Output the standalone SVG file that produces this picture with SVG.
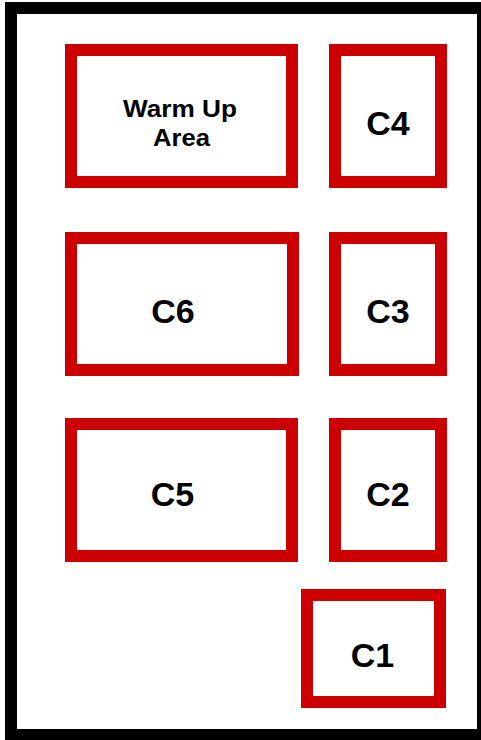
<svg xmlns="http://www.w3.org/2000/svg" width="481" height="740" viewBox="0 0 481 740">
<style>
.box{fill:#fff;stroke:#cc0000;stroke-width:12}
.lbl{font-family:"Liberation Sans",Arial,sans-serif;font-weight:bold;font-size:34px;fill:#000;text-anchor:middle}
.sm{font-size:23px}
</style>
<rect x="0" y="0" width="481" height="740" fill="#fff"/>
<rect x="11" y="8" width="472" height="727" fill="none" stroke="#000" stroke-width="12"/>
<g id="warmup">
<rect class="box" x="71" y="50" width="221" height="132"/>
<text class="lbl sm" x="180" y="117" textLength="114" lengthAdjust="spacingAndGlyphs">Warm Up</text>
<text class="lbl sm" x="181.5" y="145.5" textLength="57" lengthAdjust="spacingAndGlyphs">Area</text>
</g>
<g id="c4">
<rect class="box" x="335" y="50" width="106" height="132"/>
<text class="lbl" x="388" y="135">C4</text>
</g>
<g id="c6">
<rect class="box" x="71" y="238" width="222" height="132"/>
<text class="lbl" x="173" y="322.5">C6</text>
</g>
<g id="c3">
<rect class="box" x="335" y="238" width="106" height="132"/>
<text class="lbl" x="388" y="322.5">C3</text>
</g>
<g id="c5">
<rect class="box" x="71" y="424" width="221" height="132"/>
<text class="lbl" x="172.5" y="506">C5</text>
</g>
<g id="c2">
<rect class="box" x="335" y="424" width="106" height="132"/>
<text class="lbl" x="388" y="506">C2</text>
</g>
<g id="c1">
<rect class="box" x="307" y="595" width="133" height="107"/>
<text class="lbl" x="372.5" y="667">C1</text>
</g>
<g id="connectors"></g>
</svg>
